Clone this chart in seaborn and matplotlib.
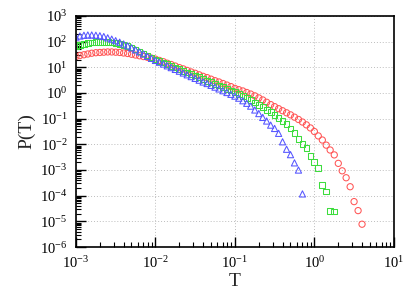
import matplotlib
matplotlib.use("Agg")
import matplotlib.pyplot as plt
import numpy as np
import seaborn as sns
from matplotlib.ticker import LogLocator

# bin centres T (log spaced, 20 per decade)
T_values = [
    1.00e-3, 1.12e-3, 1.26e-3, 1.41e-3, 1.58e-3, 1.78e-3, 2.00e-3, 2.24e-3, 2.51e-3, 2.82e-3,
    3.16e-3, 3.55e-3, 3.98e-3, 4.47e-3, 5.01e-3, 5.62e-3, 6.31e-3, 7.08e-3, 7.94e-3, 8.91e-3,
    1.00e-2, 1.12e-2, 1.26e-2, 1.41e-2, 1.58e-2, 1.78e-2, 2.00e-2, 2.24e-2, 2.51e-2, 2.82e-2,
    3.16e-2, 3.55e-2, 3.98e-2, 4.47e-2, 5.01e-2, 5.62e-2, 6.31e-2, 7.08e-2, 7.94e-2, 8.91e-2,
    1.00e-1, 1.12e-1, 1.26e-1, 1.41e-1, 1.58e-1, 1.78e-1, 2.00e-1, 2.24e-1, 2.51e-1, 2.82e-1,
    3.16e-1, 3.55e-1, 3.98e-1, 4.47e-1, 5.01e-1, 5.62e-1, 6.31e-1, 7.08e-1, 7.94e-1, 8.91e-1,
    1.00, 1.12, 1.26, 1.41, 1.58, 1.78, 2.00, 2.24, 2.51, 2.82, 3.16, 3.55, 3.98,
]

# log10 P(T)
logp_red = [
    1.42, 1.46, 1.49, 1.52, 1.55, 1.57, 1.58, 1.59, 1.60, 1.60,
    1.59, 1.58, 1.56, 1.54, 1.51, 1.48, 1.45, 1.42, 1.39, 1.36,
    1.32, 1.27, 1.22, 1.16, 1.11, 1.05, 0.99, 0.94, 0.88, 0.82,
    0.77, 0.71, 0.65, 0.60, 0.54, 0.48, 0.43, 0.37, 0.31, 0.25,
    0.18, 0.13, 0.08, 0.02, -0.04, -0.11, -0.19, -0.27, -0.36, -0.45,
    -0.53, -0.61, -0.69, -0.77, -0.85, -0.94, -1.03, -1.13, -1.24, -1.36,
    -1.50, -1.67, -1.83, -2.03, -2.22, -2.41, -2.74, -3.03, -3.30, -3.65,
    -4.23, -4.58, -5.11,
]
logp_green = [
    1.83, 1.87, 1.91, 1.94, 1.97, 1.99, 2.00, 2.00, 1.99, 1.97,
    1.95, 1.92, 1.88, 1.83, 1.77, 1.70, 1.62, 1.54, 1.46, 1.38,
    1.31, 1.25, 1.19, 1.12, 1.06, 0.99, 0.93, 0.87, 0.80, 0.74,
    0.68, 0.61, 0.55, 0.48, 0.42, 0.35, 0.29, 0.23, 0.16, 0.10,
    0.03, -0.04, -0.12, -0.20, -0.28, -0.37, -0.46, -0.55, -0.65, -0.75,
    -0.85, -0.96, -1.08, -1.22, -1.38, -1.56, -1.80, -1.99, -2.15, -2.44,
    -2.69, -2.93, -3.58, -3.84, -4.60, -4.62,
]
logp_blue = [
    2.18, 2.22, 2.25, 2.26, 2.26, 2.25, 2.23, 2.20, 2.15, 2.10,
    2.04, 1.98, 1.91, 1.84, 1.76, 1.68, 1.60, 1.52, 1.43, 1.35,
    1.27, 1.20, 1.13, 1.06, 0.99, 0.92, 0.85, 0.78, 0.71, 0.64,
    0.57, 0.50, 0.43, 0.37, 0.30, 0.23, 0.16, 0.09, 0.02, -0.05,
    -0.12, -0.20, -0.30, -0.40, -0.51, -0.66, -0.80, -0.95, -1.09, -1.25,
    -1.38, -1.57, -1.90, -2.19, -2.40, -2.72, -3.00, -3.93,
]

sns.set_style("ticks")
plt.rcParams["font.family"] = ["Liberation Serif", "DejaVu Serif"]
plt.rcParams["mathtext.fontset"] = "stix"

fig, ax = plt.subplots(figsize=(4.15, 2.91), dpi=100)
fig.subplots_adjust(left=0.183, right=0.949, bottom=0.151, top=0.945)

series = [
    (logp_red, "o", "#ff5555", 20),
    (logp_green, "s", "#3ddd3d", 17),
    (logp_blue, "^", "#5555ff", 20),
]
for logp, marker, color, size in series:
    n = len(logp)
    sns.scatterplot(
        x=T_values[:n],
        y=10 ** np.array(logp),
        marker=marker,
        s=size,
        color=color,
        facecolor="none",
        edgecolor=color,
        linewidth=0.75,
        ax=ax,
    )

ax.set_xscale("log")
ax.set_yscale("log")
ax.set_xlim(1e-3, 1e1)
ax.set_ylim(1e-6, 1e3)

for axis in (ax.xaxis, ax.yaxis):
    axis.set_major_locator(LogLocator(base=10, numticks=20))
    axis.set_minor_locator(LogLocator(base=10, subs=np.arange(2, 10), numticks=200))

ax.tick_params(which="both", direction="in", top=False, right=False, colors="black",
               labelsize=10.5, pad=6)
ax.tick_params(which="major", length=7, width=1)
ax.tick_params(which="minor", length=3.5, width=0.8)

ax.grid(True, which="major", color="#bdbdbd", linestyle=(0, (1, 2)), linewidth=0.7)
ax.set_axisbelow(True)
for spine in ax.spines.values():
    spine.set_color("black")
    spine.set_linewidth(1.2)

ax.set_xlabel("T", fontsize=14, labelpad=1)
ax.set_ylabel("P(T)", fontsize=14, labelpad=3)

plt.savefig("out.png", dpi=100)
plt.close()
